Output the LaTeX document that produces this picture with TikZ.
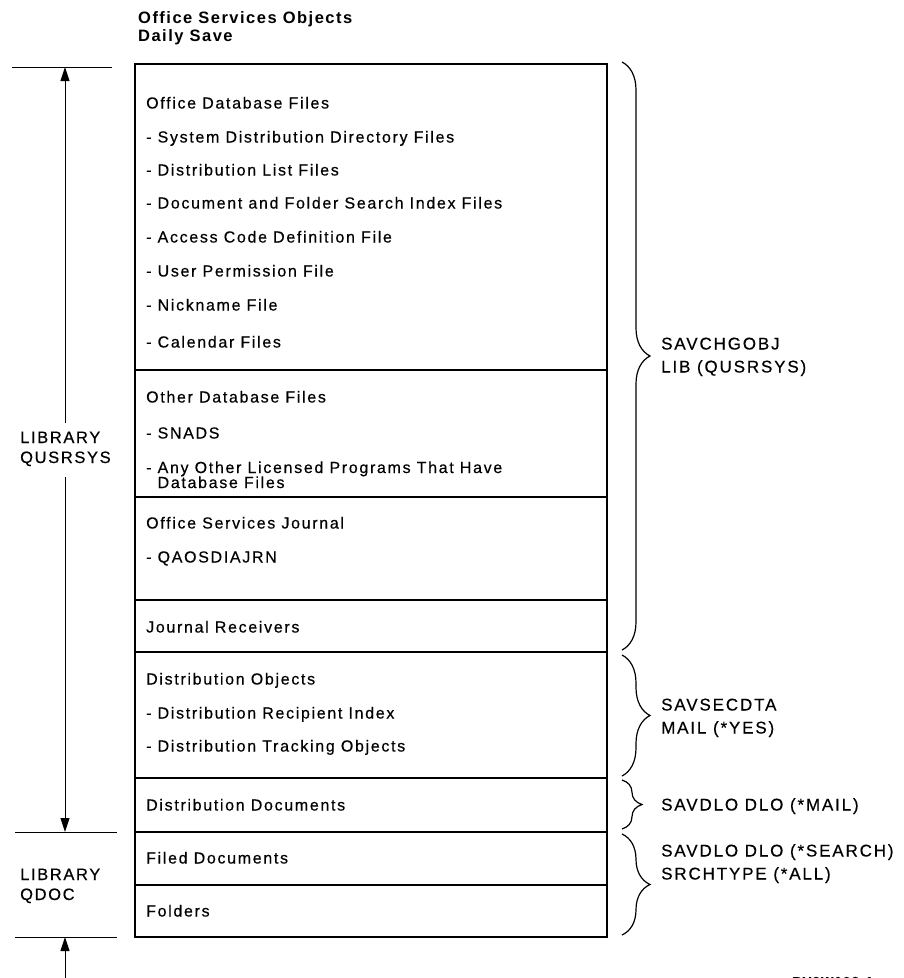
\documentclass[tikz,border=0pt]{standalone}
\usepackage{fontspec}
\setmainfont{Liberation Sans}
\newfontfamily\bodyface[LetterSpace=10.5,FakeBold=0.4]{Liberation Sans}
\newfontfamily\sideface[LetterSpace=9.9,FakeBold=0.4]{Liberation Sans}
\newfontfamily\cmdface[LetterSpace=10.9,FakeBold=0.4]{Liberation Sans}
\newfontfamily\titleface[LetterSpace=9]{Liberation Sans}
\usetikzlibrary{arrows.meta,decorations.pathreplacing}

\begin{document}
\begin{tikzpicture}[x=1pt,y=-1pt,
  item/.style={anchor=base west,inner sep=0pt,font=\bodyface\fontsize{16}{16}\selectfont},
  lab/.style={anchor=base west,inner sep=0pt,font=\sideface\fontsize{16.5}{16.5}\selectfont},
  cmd/.style={anchor=base west,inner sep=0pt,font=\cmdface\fontsize{17}{17}\selectfont},
  head/.style={anchor=base west,inner sep=0pt,font=\titleface\bfseries\fontsize{16.5}{16.5}\selectfont},
  frame/.style={line width=1.3pt},
  rule/.style={line width=1pt},
  span/.style={line width=1pt,-{Triangle[length=14pt,width=9pt]}},
  curly/.style={decorate,decoration={brace,amplitude=28pt},line width=1.2pt}]
\useasboundingbox (0,0) rectangle (904,978);

% heading
\node[head] (h1) at (138,23) {Office Services Objects};
\node[head] (h2) at (138,41) {Daily Save};

% the stacked object box
\coordinate (bxtl) at (135,64);
\coordinate (bxbr) at (607,937);
\draw[frame] (bxtl) rectangle (bxbr);
\foreach \yy in {370,497,600,652,778,885}
  \draw[frame] (135,\yy) -- (607,\yy);
\draw[line width=2.2pt] (135,832) -- (607,832);

% entries
\node[item] (t1) at (146,108.5) {Office Database Files};
\node[item] (t2) at (146,142.5) {- System Distribution Directory Files};
\node[item] (t3) at (146,175.5) {- Distribution List Files};
\node[item] (t4) at (146,208.5) {- Document and Folder Search Index Files};
\node[item] (t5) at (146,242.5) {- Access Code Definition File};
\node[item] (t6) at (146,276.5) {- User Permission File};
\node[item] (t7) at (146,310.5) {- Nickname File};
\node[item] (t8) at (146,347.5) {- Calendar Files};
\node[item] (o1) at (146,402.5) {Other Database Files};
\node[item] (o2) at (146,438.5) {- SNADS};
\node[item] (o3) at (146,473) {- Any Other Licensed Programs That Have};
\node[item] (o4) at (146,488) {\phantom{- }Database Files};
\node[item] (j1) at (146,528.5) {Office Services Journal};
\node[item] (j2) at (146,562.5) {- QAOSDIAJRN};
\node[item] (r1) at (146,632.5) {Journal Receivers};
\node[item] (d1) at (146,684.5) {Distribution Objects};
\node[item] (d2) at (146,718.5) {- Distribution Recipient Index};
\node[item] (d3) at (146,751.5) {- Distribution Tracking Objects};
\node[item] (dd) at (146,810.5) {Distribution Documents};
\node[item] (fd) at (146,863.5) {Filed Documents};
\node[item] (fo) at (146,916.5) {Folders};

% library extents on the left
\coordinate (ua) at (12,67);   \coordinate (ub) at (112,67);
\coordinate (ma) at (15,832);  \coordinate (mb) at (117,832);
\coordinate (la) at (15,937);  \coordinate (lb) at (117,937);
\draw[rule] (ua) -- (ub);
\draw[rule] (ma) -- (mb);
\draw[rule] (la) -- (lb);

\node[lab] (l1) at (20,443) {LIBRARY};
\node[lab] (l2) at (20,463) {QUSRSYS};
\node[lab] (l3) at (20,880) {LIBRARY};
\node[lab] (l4) at (20,900) {QDOC};

\coordinate (qs) at (65,67);
\coordinate (qe) at (65,832);
\coordinate (qgapa) at (65,423);
\coordinate (qgapb) at (65,477);
\draw[span] (qgapa) -- (qs);
\draw[span] (qgapb) -- (qe);
\coordinate (dtop) at (65,937);
\coordinate (dbot) at (65,990);
\draw[span] (dbot) -- (dtop);

% save commands on the right
\coordinate (b1s) at (622,62);  \coordinate (b1e) at (622,650);
\coordinate (b2s) at (622,655); \coordinate (b2e) at (622,776);
\coordinate (b3s) at (622,780); \coordinate (b3e) at (622,829);
\coordinate (b4s) at (622,834); \coordinate (b4e) at (622,935);
\draw[curly] (b1s) -- (b1e);
\draw[curly] (b2s) -- (b2e);
\draw[curly,decoration={brace,amplitude=20pt}] (b3s) -- (b3e);
\draw[curly] (b4s) -- (b4e);

\node[cmd] (c1) at (661,349.5) {SAVCHGOBJ};
\node[cmd] (c2) at (661,372.5) {LIB (QUSRSYS)};
\node[cmd] (c3) at (661,710.5) {SAVSECDTA};
\node[cmd] (c4) at (661,733.5) {MAIL (*YES)};
\node[cmd] (c5) at (661,810.5) {SAVDLO DLO (*MAIL)};
\node[cmd] (c6) at (661,856.5) {SAVDLO DLO (*SEARCH)};
\node[cmd] (c7) at (661,879.5) {SRCHTYPE (*ALL)};

\node[anchor=base west,inner sep=0pt,font=\sideface\bfseries\fontsize{13}{13}\selectfont] (fig) at (792,986) {RV3W098-1};
\end{tikzpicture}
\end{document}
